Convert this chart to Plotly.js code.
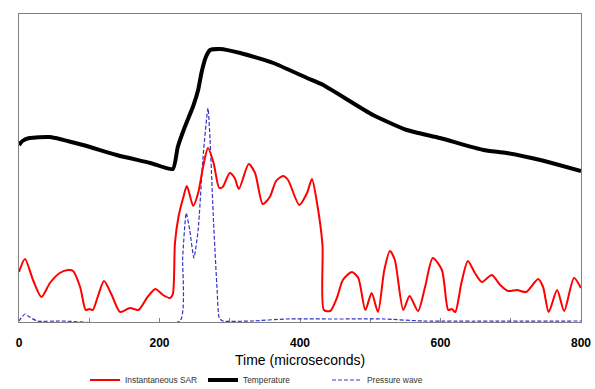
<!DOCTYPE html>
<html>
<head>
<meta charset="utf-8">
<script src="https://cdn.plot.ly/plotly-3.0.1.min.js"></script>
<style>html,body{margin:0;padding:0;background:#fff;}#chart{width:595px;height:389px;}</style>
</head>
<body>
<div id="chart"></div>
<script>
// Instantaneous SAR (red)
var sarX = [0,8.5,20,32,44,58,70,77,87,95,100,105,112,121,132,144,158,170,182,194,205,215,219,222,227,234,239,248,255,262,269,277,285,290,300,307,313,327,336,347,357,366,376,383,399,410,417,424,432,434,443,453,461,474,483,493,502,511,520,528,535,547,556,568,578,589,602,611,616,621,630,639,649,659,673,685,696,709,722,739,746,754,766,776,790,800];
var sarY = [50,63,42,25,39,49,52,51,35,12,13,12,25,41,27,10,14,12,24,33,27,24,28,79,105,125,136,116,129,155,174,159,134,135,149,144,133,158,149,118,125,141,146,142,117,129,143,120,77,12,11,25,42,50,44,12,29,10,52,71,62,12,26,11,35,64,52,12,13,10,40,61,49,40,47,37,31,32,30,43,35,10,32,11,44,34];
// Temperature (black)
var tempX = [0,5,15,44,91,139,187,219,226,236,248,255,260,266,272,286,315,362,410,433,504,552,599,661,694,742,800];
var tempY = [177,181,184,185,177,167,159,153,175,195,216,232,250,265,272,273,269,259,244,237,207,192,184,172,169,162,151];
// Pressure wave (blue dashed)
var presX = [0,3,8.5,15,26,60,229,233,238,243,249,255,262,269,272,277,282,285,290,330,380,450,520,575,800];
var presY = [1,4,8,5,1,1,1,65,109,92,64,92,165,214,182,99,32,4,1,1,3,3,3,1,1];
// Axis ticks
var tickVals = [0,100,200,300,400,500,600,700,800];
var tickText = ['0','','200','','400','','600','','800'];
var xTitle = 'Time (microseconds)';

var traces = [
  {x: presX, y: presY, type:'scatter', mode:'lines', name:'Pressure wave', legend:'legend3',
   line:{color:'#3333cc', width:1.2, dash:'4px,2px', shape:'spline', smoothing:0.5}},
  {x: sarX, y: sarY, type:'scatter', mode:'lines', name:'Instantaneous SAR', legend:'legend',
   line:{color:'#ff0000', width:2, shape:'spline', smoothing:0.7}},
  {x: tempX, y: tempY, type:'scatter', mode:'lines', name:'Temperature', legend:'legend2',
   line:{color:'#000000', width:4, shape:'spline', smoothing:0.5}}
];
var legFont = {family:'Liberation Sans, Arial, sans-serif', size:8.4, color:'#333333'};
function leg(px){
  return {x:px, xanchor:'left', xref:'container', y:0.0231, yref:'container', yanchor:'middle',
          orientation:'h', font:legFont, bgcolor:'rgba(0,0,0,0)'};
}
var layout = {
  width:595, height:389,
  margin:{l:19, r:14, t:14, b:67},
  paper_bgcolor:'#ffffff', plot_bgcolor:'#ffffff',
  showlegend:true,
  xaxis:{range:[0,800], tickvals:tickVals, ticktext:tickText, ticks:'inside', ticklen:4, tickcolor:'#808080',
         showline:true, linecolor:'#808080', linewidth:1, mirror:true, showgrid:false, zeroline:false,
         layer:'below traces', ticklabelstandoff:10, automargin:false,
         tickfont:{family:'Liberation Sans, Arial, sans-serif', size:12, color:'#000', weight:'bold'}},
  yaxis:{range:[0,308], showticklabels:false, ticks:'', showline:true, linecolor:'#808080', linewidth:1, mirror:true,
         showgrid:false, zeroline:false, layer:'below traces', automargin:false},
  annotations:[{text:xTitle, xref:'paper', yref:'paper', x:0.5, y:-0.123, xanchor:'center', yanchor:'middle',
         showarrow:false, font:{family:'Liberation Sans, Arial, sans-serif', size:14, color:'#000'}}],
  legend:leg(85/595),
  legend2:leg(203/595),
  legend3:leg(327/595)
};
Plotly.newPlot('chart', traces, layout, {displayModeBar:false, staticPlot:true});
</script>
</body>
</html>
